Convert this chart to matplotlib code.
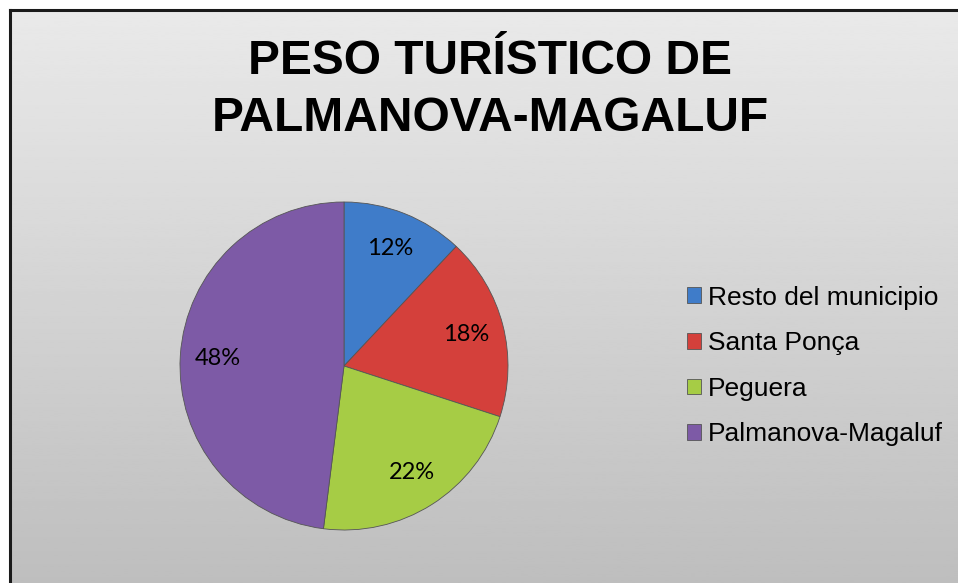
import numpy as np
import matplotlib
matplotlib.use("Agg")
import matplotlib.pyplot as plt

# data
labels = ["Resto del municipio", "Santa Ponça", "Peguera", "Palmanova-Magaluf"]
shares = [12, 18, 22, 48]
colors = ["#3f7cc9", "#d4403b", "#a6cc45", "#7d5aa6"]
title = "PESO TURÍSTICO DE\nPALMANOVA-MAGALUF"

W, H = 958, 583
fig = plt.figure(figsize=(W / 100, H / 100), dpi=100)
fig.patch.set_facecolor("white")

# chart area: grey vertical gradient, border on left/top (cropped at right/bottom)
bg = fig.add_axes([10 / W, 0, 1 - 10 / W, 1 - 10 / H])
grad = np.linspace(0.915, 0.745, 256).reshape(-1, 1)
bg.imshow(grad, cmap="gray", vmin=0, vmax=1, aspect="auto", extent=[0, 1, 0, 1])
bg.set_xlim(0, 1); bg.set_ylim(0, 1)
bg.set_xticks([]); bg.set_yticks([])
for side in ("right", "bottom"):
    bg.spines[side].set_visible(False)
for side in ("left", "top"):
    bg.spines[side].set_linewidth(2.2)
    bg.spines[side].set_color("#1a1a1a")

fig.text(490 / W, 1 - 90 / H, title, ha="center", va="center",
         fontsize=34.5, fontweight="bold", family="Liberation Sans",
         linespacing=1.33)

# pie: centre (344, 366) px, radius 164 px
cx, cy, r = 344, 366, 164
ax = fig.add_axes([(cx - r) / W, (H - cy - r) / H, 2 * r / W, 2 * r / H])
wedges, _, autotexts = ax.pie(
    shares, colors=colors, startangle=90, counterclock=False,
    autopct="%1.0f%%", pctdistance=0.77, radius=1,
    wedgeprops=dict(edgecolor="#555555", linewidth=0.6),
    textprops=dict(fontsize=17, family="Lato", color="black"))
ax.set_xlim(-1.0, 1.0); ax.set_ylim(-1.0, 1.0)
ax.set_aspect("equal")
ax.axis("off")

leg = fig.legend(wedges, labels, loc="center left",
                 bbox_to_anchor=(663 / W, 1 - 366 / H),
                 frameon=False, handlelength=0.53, handleheight=0.53,
                 handletextpad=0.27, labelspacing=0.82,
                 prop=dict(family="Liberation Sans", size=19))

fig.savefig("out.png", dpi=100)
